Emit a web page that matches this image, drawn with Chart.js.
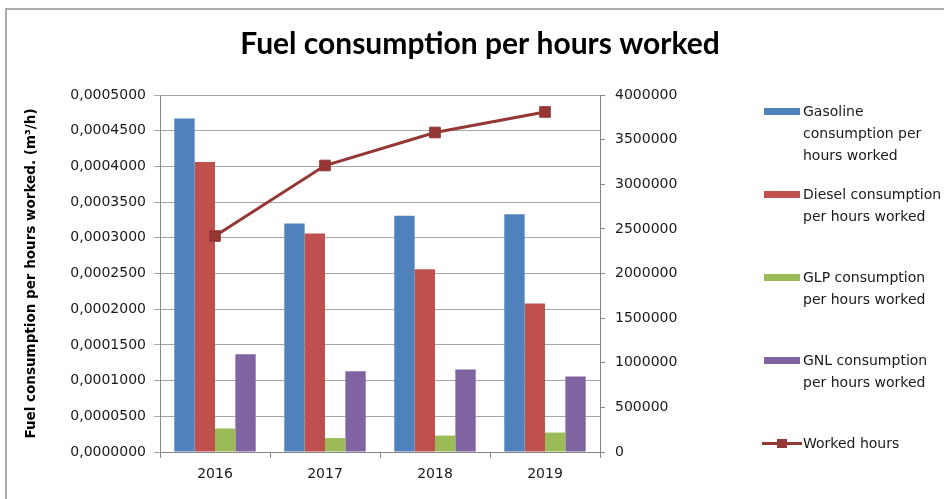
<!DOCTYPE html>
<html>
<head>
<meta charset="utf-8">
<script src="https://cdn.jsdelivr.net/npm/chart.js@4"></script>
<style>
  html, body { margin: 0; padding: 0; background: #fff; overflow: hidden; }
  #wrap { position: relative; width: 944px; height: 499px; }
  #frame { position: absolute; left: 5px; top: 8px; width: 950px; height: 500px;
           border-top: 2px solid #ababab; border-left: 2px solid #ababab; }
  #chart { position: absolute; left: 0; top: 0; }
  #legend { position: absolute; left: 0; top: 0; width: 944px; height: 499px; pointer-events: none;
            font-family: "DejaVu Sans", sans-serif; font-size: 14px; color: #1a1a1a; }
  .item { position: absolute; left: 762px; white-space: nowrap; line-height: 22px; }
  .swatch { position: absolute; left: 2px; top: 8px; width: 36px; height: 7px; }
  .lineSw { position: absolute; left: 0; top: 10px; width: 40px; height: 3px; }
  .marker { position: absolute; left: 15px; top: 7px; width: 10px; height: 9px; }
  .text { position: absolute; left: 41px; top: 0; }
</style>
</head>
<body>
<div id="wrap">
  <div id="frame"></div>
  <canvas id="chart" width="944" height="499"></canvas>
  <div id="legend"></div>
</div>
<script>
// Datos
const years = ['2016', '2017', '2018', '2019'];
const gasoline = [0.000467, 0.000320, 0.000331, 0.000333];
const diesel = [0.000406, 0.000306, 0.000256, 0.000208];
const glp = [0.0000330, 0.0000195, 0.0000230, 0.0000272];
const gnl = [0.000137, 0.000113, 0.0001155, 0.0001058];
const workedHours = [2420000, 3210000, 3580000, 3810000];

// Etiquetas de la leyenda (con los saltos de línea del original)
const legendLines = [
    ['Gasoline', 'consumption per', 'hours worked'],
    ['Diesel consumption', 'per hours worked'],
    ['GLP consumption', 'per hours worked'],
    ['GNL consumption', 'per hours worked'],
    ['Worked hours']
];

const tickFont = { family: '"DejaVu Sans", sans-serif', size: 14 };
const gridColor = '#a6a6a6';
const axisColor = '#868686';

const ctx = document.getElementById('chart');

const chart = new Chart(ctx, {
    type: 'bar',
    data: {
        labels: years,
        datasets: [
            { label: legendLines[0].join(' '), data: gasoline, backgroundColor: '#4F81BD', yAxisID: 'y' },
            { label: legendLines[1].join(' '), data: diesel, backgroundColor: '#C0504D', yAxisID: 'y' },
            { label: legendLines[2].join(' '), data: glp, backgroundColor: '#9BBB59', yAxisID: 'y' },
            { label: legendLines[3].join(' '), data: gnl, backgroundColor: '#8064A2', yAxisID: 'y' },
            {
                type: 'line',
                label: legendLines[4].join(' '),
                data: workedHours,
                yAxisID: 'y1',
                borderColor: '#953735',
                backgroundColor: '#953735',
                borderWidth: 3,
                pointStyle: 'rect',
                pointRadius: 7.5,
                pointBorderWidth: 1,
                tension: 0,
                order: -1
            }
        ]
    },
    options: {
        responsive: false,
        animation: false,
        layout: { padding: { left: 16, right: 0, top: 0, bottom: 0 } },
        datasets: {
            bar: { categoryPercentage: 0.74, barPercentage: 1.0 }
        },
        plugins: {
            legend: { display: false },
            tooltip: { enabled: false },
            title: {
                display: true,
                text: 'Fuel consumption per hours worked',
                color: '#000',
                font: { family: 'Lato, sans-serif', size: 30, weight: 'bold' },
                padding: { top: 26, bottom: 33 }
            }
        },
        scales: {
            x: {
                grid: { display: true, drawOnChartArea: false, drawTicks: true, tickLength: 6, color: axisColor, offset: true },
                border: { color: axisColor },
                ticks: { color: '#1a1a1a', font: tickFont, padding: 8 },
                afterFit: scale => { scale.height = 47; }
            },
            y: {
                position: 'left',
                min: 0,
                max: 0.0005,
                grid: { color: gridColor, tickLength: 6 },
                border: { color: axisColor },
                ticks: {
                    stepSize: 0.00005,
                    color: '#1a1a1a',
                    font: tickFont,
                    padding: 8,
                    callback: value => value.toFixed(7).replace('.', ',')
                },
                title: {
                    display: true,
                    text: 'Fuel consumption per hours worked. (m³/h)',
                    color: '#000',
                    font: { family: '"DejaVu Sans", sans-serif', size: 13.5, weight: 'bold' },
                    padding: { top: 7, bottom: 0 }
                },
                afterFit: scale => { scale.width = 144; }
            },
            y1: {
                position: 'right',
                min: 0,
                max: 4000000,
                grid: { drawOnChartArea: false, tickLength: 5, color: axisColor },
                border: { color: axisColor },
                ticks: {
                    stepSize: 500000,
                    color: '#1a1a1a',
                    font: tickFont,
                    padding: 10,
                    callback: value => String(value)
                },
                afterFit: scale => { scale.width = 344; }
            }
        }
    }
});

// Leyenda en HTML (texto en varias líneas como en el original)
function buildLegend(chart) {
    const box = document.getElementById('legend');
    box.innerHTML = '';
    chart.data.datasets.forEach((ds, i) => {
        const item = document.createElement('div');
        item.className = 'item';
        item.style.top = (100 + i * 83) + 'px';
        let sw;
        if (ds.type === 'line') {
            sw = `<div class="lineSw" style="background:${ds.borderColor}"></div>` +
                 `<div class="marker" style="background:${ds.backgroundColor}"></div>`;
        } else {
            sw = `<div class="swatch" style="background:${ds.backgroundColor}"></div>`;
        }
        item.innerHTML = sw + `<div class="text">${legendLines[i].join('<br>')}</div>`;
        box.appendChild(item);
    });
}
buildLegend(chart);
</script>
</body>
</html>
